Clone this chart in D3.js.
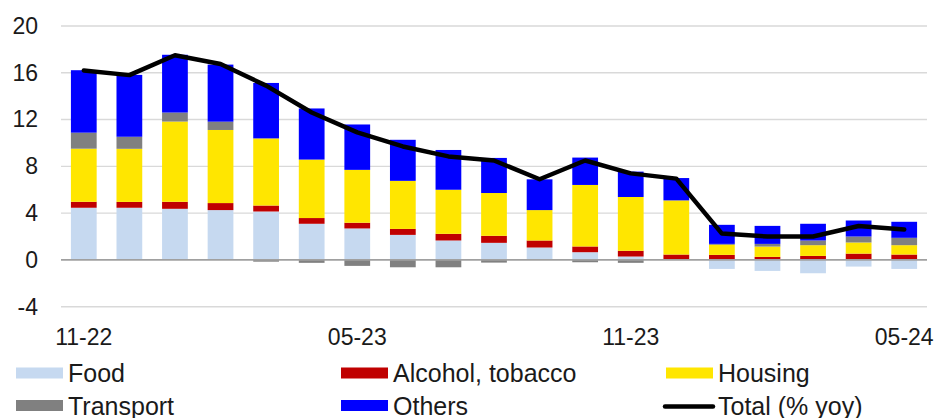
<!DOCTYPE html>
<html>
<head>
<meta charset="utf-8">
<script src="https://cdn.jsdelivr.net/npm/d3@7"></script>
<style>
  html, body { margin: 0; padding: 0; background: #fff; }
  svg { display: block; font-family: "Liberation Sans", Arial, sans-serif; }
</style>
</head>
<body>
<svg id="chart" width="938" height="418"></svg>
<script>
const months = ["11-22","12-22","01-23","02-23","03-23","04-23","05-23","06-23","07-23","08-23","09-23","10-23","11-23","12-23","01-24","02-24","03-24","04-24","05-24"];
const tickLabels = ["11-22","05-23","11-23","05-24"];
const yTicks = [-4, 0, 4, 8, 12, 16, 20];

const food      = [4.46,4.46,4.37,4.26,4.14,3.09,2.69,2.14,1.66,1.46,1.06,0.66,0.29,0.00,-0.77,-0.94,-1.14,-0.57,-0.77];
const alcohol   = [0.51,0.50,0.60,0.60,0.51,0.49,0.49,0.51,0.57,0.60,0.60,0.49,0.49,0.46,0.43,0.26,0.34,0.54,0.46];
const housing   = [4.54,4.54,6.86,6.25,5.74,5.00,4.52,4.11,3.77,3.66,2.60,5.26,4.60,4.63,0.86,0.88,0.92,0.95,0.80];
const transport = [1.37,1.03,0.77,0.71,-0.15,-0.25,-0.51,-0.63,-0.63,-0.23,0.00,-0.20,-0.25,0.00,0.08,0.23,0.40,0.51,0.63];
const others    = [5.34,5.29,4.94,4.88,4.74,4.37,3.88,3.51,3.40,3.00,2.63,2.34,2.17,1.91,1.63,1.54,1.43,1.37,1.37];
const total     = [16.2,15.8,17.5,16.75,14.9,12.6,10.9,9.7,8.85,8.5,6.9,8.5,7.4,6.95,2.25,2.0,2.0,2.9,2.6];

const seriesNames = ["Food","Alcohol, tobacco","Housing","Transport","Others"];
const seriesData = [food, alcohol, housing, transport, others];
const colors = ["#c6d9f0","#c00000","#ffe600","#808080","#0000ff"];

(function () {
const svg = d3.select("#chart");
const plotLeft = 61, plotRight = 927, plotTop = 26, plotBottom = 306.7;

const x = d3.scaleBand().domain(months).range([plotLeft, plotRight]).paddingInner(0.435).paddingOuter(0.2175);
const y = d3.scaleLinear().domain([-4, 20]).range([plotBottom, plotTop]);

// gridlines
svg.append("g").selectAll("line").data(yTicks.filter(d => d !== 0)).join("line")
  .attr("x1", plotLeft).attr("x2", plotRight)
  .attr("y1", d => y(d)).attr("y2", d => y(d))
  .attr("stroke", "#d9d9d9").attr("stroke-width", 1.4);

// y axis labels
const yAxis = d3.axisLeft(y).tickValues(yTicks).tickSize(0).tickPadding(0).tickFormat(d => String(d));
const yg = svg.append("g").attr("transform", "translate(38,0)").call(yAxis);
yg.select(".domain").remove();
yg.selectAll("text").attr("font-size", 23).attr("fill", "#1a1a1a").attr("font-family", "Liberation Sans, Arial, sans-serif");

// stacked bars
const table = months.map((m, i) => {
  const o = { month: m };
  seriesNames.forEach((s, k) => o[s] = seriesData[k][i]);
  return o;
});
const stack = d3.stack().keys(seriesNames).offset(d3.stackOffsetDiverging);
const layers = stack(table);

svg.append("g").selectAll("g").data(layers).join("g")
  .attr("fill", (d, i) => colors[i])
  .selectAll("rect").data(d => d).join("rect")
  .attr("x", d => x(d.data.month))
  .attr("width", x.bandwidth())
  .attr("y", d => y(Math.max(d[0], d[1])))
  .attr("height", d => Math.abs(y(d[0]) - y(d[1])));

// zero line
svg.append("line")
  .attr("x1", plotLeft).attr("x2", plotRight)
  .attr("y1", y(0)).attr("y2", y(0))
  .attr("stroke", "#a0a0a0").attr("stroke-width", 1.6);

// total line
const line = d3.line()
  .x((d, i) => x(months[i]) + x.bandwidth() / 2)
  .y(d => y(d));
svg.append("path").datum(total)
  .attr("d", line)
  .attr("fill", "none")
  .attr("stroke", "#000")
  .attr("stroke-width", 4.5)
  .attr("stroke-linejoin", "round")
  .attr("stroke-linecap", "round");

// x axis labels
const xAxis = d3.axisBottom(x).tickValues(tickLabels).tickSize(0).tickPadding(0);
const xg = svg.append("g").attr("transform", "translate(0,329)").call(xAxis);
xg.select(".domain").remove();
xg.selectAll("text").attr("font-size", 23).attr("fill", "#1a1a1a")
  .attr("dy", "0.71em").attr("font-family", "Liberation Sans, Arial, sans-serif");

// legend
const legendItems = [
  { name: "Food", color: colors[0], type: "rect", col: 0, row: 0 },
  { name: "Alcohol, tobacco", color: colors[1], type: "rect", col: 1, row: 0 },
  { name: "Housing", color: colors[2], type: "rect", col: 2, row: 0 },
  { name: "Transport", color: colors[3], type: "rect", col: 0, row: 1 },
  { name: "Others", color: colors[4], type: "rect", col: 1, row: 1 },
  { name: "Total (% yoy)", color: "#000", type: "line", col: 2, row: 1 }
];
const colX = [16, 341, 666];
const rowY = [373, 405.5];
const lg = svg.append("g");
legendItems.forEach(it => {
  const gx = colX[it.col], gy = rowY[it.row];
  if (it.type === "rect") {
    lg.append("rect").attr("x", gx).attr("y", gy - 5.5).attr("width", 47).attr("height", 11).attr("fill", it.color);
  } else {
    lg.append("line").attr("x1", gx - 1).attr("x2", gx + 47).attr("y1", gy + 1).attr("y2", gy + 1)
      .attr("stroke", it.color).attr("stroke-width", 4.5).attr("stroke-linecap", "round");
  }
  lg.append("text").attr("x", gx + 52).attr("y", gy + 9)
    .attr("font-size", 25).attr("fill", "#1a1a1a").text(it.name);
});
})();
</script>
</body>
</html>
